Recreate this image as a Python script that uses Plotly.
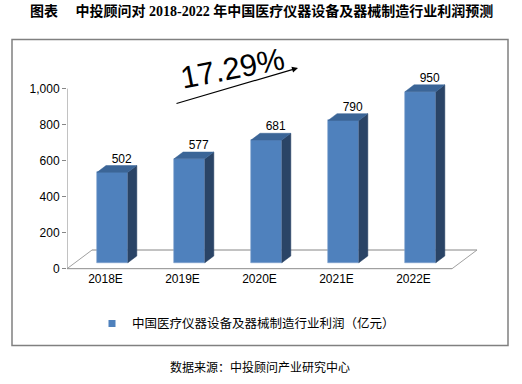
import plotly.graph_objects as go

categories = ["2018E", "2019E", "2020E", "2021E", "2022E"]
profits = [502, 577, 681, 790, 950]
y_ticks = [0, 200, 400, 600, 800, 1000]
series_name = "中国医疗仪器设备及器械制造行业利润（亿元）"
cagr_text = "17.29%"
title_text = "<b>图表　 中投顾问对 2018-2022 年中国医疗仪器设备及器械制造行业利润预测</b>"
source_text = "数据来源：中投顾问产业研究中心"

W, H = 522, 384
FRONT = "#4F81BD"
SIDE = "#2A4466"
TOP = "#3B6597"
GRAY = "#868686"

# 3D projection parameters (axis units)
bar_shift = 0.09
bar_w = 0.40
base = 33
ddx, ddy = 0.117, 38          # bar depth
fdx, fdy = 0.325, 104         # floor depth

def px(x):
    return x / W

def py(y):
    return 1 - y / H

fig = go.Figure()

xs = list(range(len(categories)))

# front faces
fig.add_trace(go.Bar(
    x=[k + bar_shift for k in xs], y=profits, base=base, width=bar_w,
    marker=dict(color=FRONT, line=dict(color="#7FA2CF", width=0.6)),
    showlegend=False, hoverinfo="skip"))

side_x, side_y, top_x, top_y = [], [], [], []
for k, v in zip(xs, profits):
    xl = k + bar_shift - bar_w / 2
    xr = k + bar_shift + bar_w / 2
    t = v + base
    side_x += [xr, xr + ddx, xr + ddx, xr, xr, None]
    side_y += [base, base + ddy, t + ddy, t, base, None]
    top_x += [xl, xl + ddx, xr + ddx, xr, xl, None]
    top_y += [t, t + ddy, t + ddy, t, t, None]

fig.add_trace(go.Scatter(x=side_x, y=side_y, fill="toself", fillcolor=SIDE,
                         mode="lines", line=dict(color=SIDE, width=0.5),
                         showlegend=False, hoverinfo="skip"))
fig.add_trace(go.Scatter(x=top_x, y=top_y, fill="toself", fillcolor=TOP,
                         mode="lines", line=dict(color=TOP, width=0.5),
                         showlegend=False, hoverinfo="skip"))

# data labels
fig.add_trace(go.Scatter(
    x=[k + 0.21 for k in xs], y=[v + base + ddy for v in profits],
    mode="text", text=[str(v) for v in profits], textposition="top center",
    textfont=dict(family="Liberation Sans, Arial", size=12, color="#000"),
    cliponaxis=False, showlegend=False, hoverinfo="skip"))

# legend entry
fig.add_trace(go.Scatter(x=[None], y=[None], mode="markers", name=series_name,
                         marker=dict(symbol="square", size=7, color=FRONT)))

n = len(categories)
shapes = [
    dict(type="line", xref="x", yref="y", x0=-0.5, y0=0, x1=n - 0.5, y1=0,
         line=dict(color=GRAY, width=1), layer="below"),
    dict(type="line", xref="x", yref="y", x0=-0.5 + fdx, y0=fdy, x1=n - 0.5 + fdx, y1=fdy,
         line=dict(color=GRAY, width=1), layer="below"),
    dict(type="line", xref="x", yref="y", x0=-0.5, y0=0, x1=-0.5 + fdx, y1=fdy,
         line=dict(color="#A0A0A0", width=1), layer="below"),
    dict(type="line", xref="x", yref="y", x0=n - 0.5, y0=0, x1=n - 0.5 + fdx, y1=fdy,
         line=dict(color="#A0A0A0", width=1), layer="below"),
    dict(type="line", xref="x", yref="y", x0=-0.5, y0=0, x1=-0.5, y1=y_ticks[-1],
         line=dict(color=GRAY, width=1), layer="below"),
    dict(type="rect", xref="paper", yref="paper", x0=px(12), x1=px(508),
         y0=py(351), y1=py(40), line=dict(color="#808080", width=1.5)),
]

annotations = [
    dict(text=title_text, xref="paper", yref="paper", x=px(261), y=py(11),
         showarrow=False, xanchor="center", yanchor="middle",
         font=dict(family="Liberation Serif, Noto Sans CJK SC", size=14, color="#000")),
    dict(text=source_text, xref="paper", yref="paper", x=px(260), y=py(372),
         showarrow=False, xanchor="center", yanchor="middle",
         font=dict(family="Noto Sans CJK SC", size=12, color="#000")),
    dict(text=cagr_text, xref="paper", yref="paper", x=px(232), y=py(70),
         showarrow=False, xanchor="center", yanchor="middle", textangle=-11,
         font=dict(family="Liberation Sans, Arial", size=31, color="#000")),
    dict(text="", xref="paper", yref="paper", x=px(298), y=py(69),
         showarrow=True, axref="pixel", ayref="pixel", ax=-123, ay=36,
         arrowhead=2, arrowsize=1, arrowwidth=1.2, arrowcolor="#000"),
]

x_right = 490
fig.update_layout(
    width=W, height=H, autosize=False,
    margin=dict(l=0, r=0, t=0, b=0),
    paper_bgcolor="white", plot_bgcolor="white",
    bargap=0,
    xaxis=dict(domain=[px(67), px(x_right)],
               range=[-0.5, (x_right - 105.5) / 77],
               tickmode="array", tickvals=xs, ticktext=categories,
               showgrid=False, zeroline=False, showline=False, ticks="",
               tickfont=dict(family="Liberation Sans, Arial", size=12, color="#000")),
    yaxis=dict(domain=[py(274), py(60)],
               range=[(273 - 274) / 0.183, (273 - 60) / 0.183],
               tickmode="array", tickvals=y_ticks, tickformat=",d",
               showgrid=False, zeroline=False, showline=False,
               ticks="outside", ticklen=4, tickcolor=GRAY,
               tickfont=dict(family="Liberation Sans, Arial", size=12, color="#000")),
    showlegend=True,
    legend=dict(orientation="h", x=px(92), xanchor="left", y=py(329), yanchor="middle",
                font=dict(family="Noto Sans CJK SC", size=12.5, color="#000"),
                bgcolor="rgba(0,0,0,0)"),
    shapes=shapes,
    annotations=annotations,
)

fig.write_html("out.html", config={"displayModeBar": False},
               post_script="document.body.style.margin='0px';document.body.style.overflow='hidden';")
